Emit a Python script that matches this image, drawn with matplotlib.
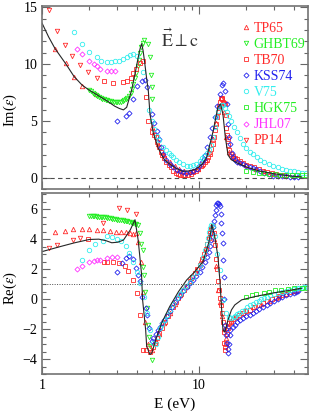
import numpy as np
import matplotlib
matplotlib.use('Agg')
import matplotlib.pyplot as plt
from matplotlib.lines import Line2D
from matplotlib.ticker import MultipleLocator, FixedLocator, NullFormatter, FixedFormatter

plt.rcParams.update({'font.size': 10, 'font.family': 'Liberation Serif'})
plt.rcParams["mathtext.fontset"] = "stix"

# ---------------- theory (black line) ----------------
th_E_im = [1.0, 1.1, 1.21, 1.42, 1.6, 1.8, 2.0, 2.3, 2.6, 2.9, 3.1, 3.3, 3.46, 3.72, 3.91, 4.1, 4.22, 4.31,
           4.4, 4.5, 4.65, 4.75, 4.87, 5.12, 5.5, 6.0, 6.5, 7.2, 7.9, 8.7, 9.6, 10.5, 11.2, 12.3, 13.2, 13.7,
           14.2, 14.7, 15.3, 16.0, 17.5, 20, 24, 30, 38, 45]
th_im = [13.6, 12.4, 11.36, 10.0, 8.9, 8.15, 7.7, 7.2, 6.75, 6.3, 6.1, 5.97, 6.2, 7.7, 9.15, 10.6, 11.4, 11.8,
         11.2, 10.2, 8.6, 7.7, 5.6, 3.9, 2.6, 1.6, 1.2, 0.8, 0.56, 0.6, 0.77, 1.2, 1.8, 4.1, 6.2, 6.5,
         5.6, 3.6, 2.0, 1.6, 1.3, 0.95, 0.6, 0.35, 0.15, 0.07]
th_E_re = [1.0, 1.3, 1.6, 2.0, 2.3, 2.55, 2.78, 3.05, 3.3, 3.64, 3.91, 4.1, 4.3, 4.37, 4.57, 4.64, 4.87, 5.0,
           5.38, 5.78, 6.5, 7.4, 8.35, 9.4, 10.6, 11.5, 11.9, 12.05, 12.6, 13.2, 13.6, 13.9, 14.2, 14.6,
           15.3, 16.1, 16.9, 18.7, 22.7, 29, 36, 45]
th_re = [3.17, 3.5, 3.75, 3.98, 4.0, 3.9, 3.76, 3.8, 3.94, 4.6, 5.3, 3.9, 1.7, -0.05, -2.05, -3.16, -3.7, -3.6,
         -2.5, -1.6, -0.5, 0.5, 1.28, 1.83, 2.5, 3.72, 4.5, 4.97, 4.16, 2.83, 1.17, -0.5, -2.05, -2.2,
         -1.38, -0.72, -0.39, -0.05, 0.17, 0.39, 0.55, 0.72]

# ---------------- TP65 (red up-triangles) ----------------
tp65_E_im = [1.21, 1.42, 1.6, 1.8, 2.2, 5.0, 5.5, 6.0, 6.5, 7.0, 7.5, 8.0, 8.6, 9.2, 9.8, 10.4, 11.0, 11.6,
             12.2, 12.8, 13.4, 13.9, 14.4, 14.9, 15.5, 16.5, 18, 20, 23, 26, 30]
tp65_im = [11.36, 10.1, 8.9, 8.1, 7.4, 4.5, 3.0, 2.0, 1.4, 1.0, 0.75, 0.6, 0.5, 0.6, 0.8, 1.1, 1.6, 2.3,
           3.4, 4.8, 6.2, 7.0, 5.8, 3.6, 2.3, 1.8, 1.4, 1.1, 0.8, 0.55, 0.35]
tp65_E_re = [1.21, 1.4, 1.58, 1.8, 2.0, 2.23, 2.45, 2.7, 2.95, 3.2, 3.42, 3.62, 3.82, 3.97, 4.1, 4.25, 4.4,
             4.55, 4.75, 5.0, 5.3, 5.6, 6.0, 6.5, 7.0, 7.6, 8.2, 8.9, 9.6, 10.3, 11.0, 11.6, 12.0, 12.4,
             12.8, 13.2, 13.6, 14.0, 14.4, 14.8, 15.3, 16, 17, 18.5, 20, 22, 25, 28, 32, 36, 41]
tp65_re = [4.45, 4.56, 4.65, 4.65, 4.65, 4.6, 4.6, 4.55, 4.5, 4.5, 4.45, 4.4, 4.35, 4.38, 3.83, 2.5, 0.5,
           -1.5, -3.0, -3.4, -2.8, -2.3, -1.6, -0.9, -0.3, 0.3, 0.85, 1.4, 1.95, 2.6, 3.4, 4.3, 4.9, 4.0,
           2.2, 0.6, -0.2, -1.16, -2.0, -2.6, -1.8, -1.45, -1.2, -0.95, -0.75, -0.55, -0.3, -0.1, 0.15, 0.35, 0.55]

# ---------------- GHBT69 (green down-triangles) ----------------
ghbt_E_im = [2.0, 2.05, 2.1, 2.15, 2.2, 2.25, 2.3, 2.36, 2.42, 2.48, 2.54, 2.6, 2.67, 2.74, 2.81, 2.88, 2.95,
             3.02, 3.1, 3.18, 3.26, 3.34, 3.42, 3.5, 3.58, 3.66, 3.74, 3.82, 3.9, 3.98, 4.06, 4.14, 4.22,
             4.3, 4.38, 4.45, 4.75, 4.87, 4.94, 4.99, 5.04]
ghbt_im = [7.7, 7.6, 7.5, 7.4, 7.3, 7.2, 7.1, 7.0, 6.95, 6.9, 6.85, 6.8, 6.75, 6.72, 6.7, 6.68, 6.66,
           6.65, 6.67, 6.7, 6.78, 6.85, 6.95, 7.05, 7.2, 7.45, 7.8, 8.25, 8.75, 9.25, 9.8, 10.4, 11.0,
           11.5, 11.85, 12.1, 11.8, 10.6, 9.0, 8.0, 6.9]
ghbt_E_re = [2.0, 2.05, 2.1, 2.15, 2.2, 2.25, 2.3, 2.36, 2.42, 2.48, 2.54, 2.6, 2.67, 2.74, 2.81, 2.88, 2.95,
             3.02, 3.1, 3.18, 3.26, 3.34, 3.42, 3.5, 3.58, 3.66, 3.74, 3.82, 3.9, 3.98, 4.06,
             4.2, 4.3, 4.38, 4.42, 4.46, 4.52, 4.64, 4.72, 4.8, 4.9, 4.99]
ghbt_re = [5.54, 5.53, 5.53, 5.52, 5.52, 5.51, 5.5, 5.49, 5.48, 5.47, 5.45, 5.43, 5.41, 5.39, 5.37, 5.35, 5.33,
           5.31, 5.29, 5.27, 5.25, 5.23, 5.2, 5.18, 5.15, 5.12, 5.09, 5.06, 5.03, 5.0, 4.95,
           4.38, 3.7, 3.3, 2.16, 1.6, 0.5, -0.6, -1.7, -2.5, -3.1, -4.05]

# ---------------- TB70 (red squares) ----------------
tb70_E_im = [2.49, 2.85, 3.26, 3.5, 3.67, 3.82, 3.97, 4.2, 4.4, 4.6, 4.75, 4.99,
             5.15, 5.3, 5.4, 5.55, 5.7, 5.85, 6.0, 6.2, 6.4, 6.6, 6.85, 7.1, 7.3, 7.6, 7.9, 8.2, 8.5, 8.85,
             9.2, 9.55, 9.9, 10.25, 10.6, 10.9, 11.2, 11.45, 11.7, 11.95, 12.2, 12.45, 12.7, 12.9, 13.1,
             13.3, 13.5, 13.65, 13.8, 14.0, 14.1, 14.25, 14.4, 14.6, 14.75, 14.9, 15.05, 15.2, 15.4, 15.6,
             16.0, 16.4, 16.9, 17.4, 18.2, 19, 20, 21, 22.5, 24, 25.5, 27, 29, 31, 33, 35]
tb70_im = [8.5, 8.3, 8.4, 8.5, 8.8, 9.2, 9.6, 10.1, 10.3, 7.1, 5.0, 4.0,
           3.8, 3.6, 3.1, 2.7, 2.3, 2.0, 1.7, 1.4, 1.1, 0.9, 0.6, 0.4, 0.3, 0.25, 0.2, 0.2, 0.25, 0.35,
           0.47, 0.62, 0.8, 1.0, 1.2, 1.4, 1.6, 1.85, 2.1, 2.5, 3.0, 3.6, 4.2, 4.7, 5.3,
           5.8, 6.3, 6.7, 7.0, 7.0, 6.9, 6.7, 6.6, 6.5, 5.5, 4.4, 3.8, 3.4, 2.9, 2.4,
           2.1, 1.9, 1.75, 1.65, 1.45, 1.3, 1.15, 1.06, 0.9, 0.75, 0.6, 0.47, 0.38, 0.3, 0.25, 0.2]
tb70_E_re = [1.97, 2.49, 2.6, 2.85, 3.09, 3.38, 3.55, 3.77, 4.0, 4.2, 4.42, 4.6, 4.87, 5.1,
             5.25, 5.4, 5.6, 5.8, 6.05, 6.3, 6.55, 6.8, 7.1, 7.4, 7.7, 8.0, 8.35, 8.7, 9.05, 9.4, 9.75,
             10.1, 10.45, 10.8, 11.05, 11.3, 11.55, 11.8, 12.0, 12.2, 12.4, 12.6, 12.8, 13.0, 13.2, 13.4,
             13.6, 13.8, 14.0, 14.2, 14.35, 14.5, 14.6, 14.7, 14.85, 15.0, 15.25, 15.5, 16.0, 16.5, 17.2,
             18, 19, 20, 21, 22.5, 24, 25.5, 27, 29, 31, 32.5, 34, 36, 38, 40, 42]
tb70_re = [4.0, 2.5, 2.5, 2.5, 2.43, 2.2, 1.9, 1.28, 0.39, -1.05, -3.38, -3.4, -3.5, -3.2,
           -2.9, -2.6, -2.25, -1.9, -1.5, -1.1, -0.8, -0.5, -0.2, 0.1, 0.35, 0.6, 0.9, 1.2, 1.47, 1.75, 2.02,
           2.3, 2.65, 3.0, 3.35, 3.7, 4.05, 4.4, 4.65, 4.9, 4.4, 3.6, 2.7, 2.0, 1.2, 0.6,
           0.1, -0.4, -0.9, -1.5, -2.2, -2.9, -3.2, -3.4, -3.0, -2.3, -1.9, -1.6, -1.5, -1.35, -1.2,
           -1.05, -0.9, -0.8, -0.72, -0.55, -0.42, -0.28, -0.16, -0.02, 0.08, 0.18, 0.28, 0.37, 0.45, 0.53, 0.6]

# ---------------- KSS74 (blue diamonds) ----------------
kss_E_im = [2.99, 3.42, 3.6, 3.81, 4.0, 4.31, 4.5, 4.64,
            5.04, 5.2, 5.38, 5.59, 5.75, 5.93, 6.2, 6.5, 6.85, 7.2, 7.55, 7.9, 8.3, 8.7, 9.2, 9.67, 10.0,
            10.4, 10.7, 10.95, 11.3, 11.7, 12.1, 12.6, 13.1, 13.6, 14.0, 14.3, 14.6, 15.0, 15.3, 15.6, 15.8,
            16.2, 16.5, 17.0, 17.5, 18.3, 19.1, 20, 21, 22, 23.2, 24.5, 26, 28, 29.7, 32, 34, 36, 38, 40, 43]
kss_im = [5.0, 5.4, 5.7, 6.9, 8.1, 8.5, 8.6, 8.0,
          5.6, 4.8, 4.1, 3.4, 2.7, 2.1, 1.6, 1.2, 0.9, 0.7, 0.55, 0.47, 0.45, 0.5, 0.6, 0.77, 1.0,
          1.35, 1.65, 2.0, 2.7, 3.6, 4.4, 5.3, 6.3, 7.4, 8.2, 8.3, 7.6, 6.5, 4.7, 3.6, 3.0,
          2.2, 1.8, 1.6, 1.4, 1.3, 1.2, 1.05, 0.95, 0.85, 0.77, 0.6, 0.45, 0.3, 0.18, 0.15, 0.12, 0.11, 0.1, 0.09, 0.08]
kss_E_re = [2.99, 3.22, 3.42, 3.6, 3.78, 3.99, 4.1, 4.2, 4.35, 4.57, 4.68, 4.8, 4.99, 5.1, 5.3, 5.5,
            5.65, 5.85, 6.0, 6.25, 6.5, 6.75, 7.0, 7.3, 7.6, 7.95, 8.35, 8.75, 9.15, 9.6, 10.1, 10.5, 10.9,
            11.2, 11.5, 11.7, 11.9, 12.1, 12.3, 12.45, 12.6, 12.75, 12.9, 13.05, 13.2, 13.4, 13.6, 13.75,
            13.9, 14.05, 14.2, 14.3, 14.4, 14.5, 14.6, 14.75, 14.9, 15.05, 15.2, 15.35, 15.5, 15.65, 15.8,
            16.5, 17, 17.5, 18.2, 19, 20, 21, 22, 23, 24, 25.5, 27, 28.5, 30, 32, 34, 36, 38, 40, 41.5, 43]
kss_re = [1.83, 2.43, 2.72, 2.87, 2.65, 2.05, 1.6, 1.2, 0.17, -0.6, -1.05, -1.94, -2.83, -2.6, -2.3, -2.05,
          -1.83, -1.6, -1.4, -1.1, -0.8, -0.5, -0.2, 0.05, 0.3, 0.55, 0.83, 1.05, 1.28, 1.55, 1.83, 2.15, 2.5,
          2.8, 3.16, 3.55, 3.94, 4.4, 4.83, 5.2, 5.6, 5.95, 6.27, 6.4, 6.42, 6.35, 6.2, 5.7,
          5.05, 4.4, 3.72, 2.6, 1.5, 0.0, -1.72, -2.0, -2.38, -2.9, -3.3, -3.6, -3.0, -2.4, -2.05,
          -1.83, -1.7, -1.55, -1.4, -1.25, -1.15, -1.05, -0.9, -0.78, -0.67, -0.52, -0.39, -0.27, -0.15,
          0.0, 0.17, 0.26, 0.35, 0.43, 0.5, 0.55]

# ---------------- V75 (cyan circles) ----------------
v75_E_im = [1.6, 1.8, 2.0, 2.23, 2.36, 2.6, 2.75, 2.9, 3.1, 3.3, 3.5, 3.63, 3.82, 4.0, 4.42,
            4.8, 5.0, 5.2, 5.4, 5.6, 5.93, 6.15, 6.4, 6.6, 6.85, 7.15, 7.5, 7.9, 8.35, 8.8, 9.2, 9.6, 10.1,
            10.5, 10.8, 11.2, 11.5, 11.9, 12.2, 12.6, 12.9, 13.3, 13.6, 14.0, 14.3, 14.7, 15.0, 15.5, 16.1,
            16.8, 17.5, 18.3, 19.1, 20, 21, 22, 23.3, 24.5, 26, 28, 29.7, 32, 34, 36, 38, 40, 43, 45.5, 48]
v75_im = [12.8, 11.8, 11.1, 10.6, 10.3, 10.2, 10.2, 10.25, 10.3, 10.45, 10.6, 10.8, 10.9, 10.7, 9.3,
          6.0, 5.0, 4.3, 3.7, 3.3, 2.7, 2.45, 2.2, 2.0, 1.8, 1.6, 1.4, 1.2, 1.06, 1.05, 1.1, 1.25, 1.5,
          1.7, 1.9, 2.15, 2.4, 2.9, 3.6, 4.5, 5.3, 5.9, 6.2, 6.4, 6.4, 6.1, 5.8, 5.4, 5.0,
          4.5, 4.0, 3.5, 3.0, 2.6, 2.3, 2.05, 1.8, 1.6, 1.4, 1.2, 1.06, 0.9, 0.8, 0.7, 0.6, 0.55, 0.5, 0.45, 0.4]
v75_E_re = [1.79, 2.0, 2.17, 2.43, 2.6, 2.8, 3.0, 3.2, 3.41, 3.6, 3.78, 4.0, 4.2, 4.46, 4.64, 4.87, 5.1, 5.3,
            5.5, 5.65, 5.85, 6.06, 6.28, 6.5, 6.85, 7.2, 7.55, 7.9, 8.3, 8.75, 9.2, 9.67, 10.1, 10.6, 10.9,
            11.2, 11.4, 11.6, 11.8, 12.0, 12.3, 12.7, 13.1, 13.6, 14.2, 14.9,
            15.5, 16.1, 16.6, 17, 17.5, 18, 18.7, 19.5, 20.2, 21, 22, 23, 24, 25, 26, 27, 28.5, 30, 32, 34,
            36, 38, 40, 41.8, 43.5, 45, 46.5, 48]
v75_re = [2.6, 3.27, 3.65, 3.9, 4.2, 4.15, 4.0, 3.85, 3.54, 3.05, 2.5, 1.8, 1.1, 0.17, -0.94, -2.05, -2.9, -3.0,
          -2.5, -1.94, -1.65, -1.4, -1.05, -0.72, -0.33, 0.06, 0.33, 0.6, 0.88, 1.16, 1.5, 1.83, 2.3, 2.83, 3.25,
          3.7, 4.1, 4.5, 4.75, 4.94, 4.9, 4.2, 3.0, 1.94, -0.05, -0.94,
          -1.2, -1.27, -1.2, -1.1, -1.02, -0.95, -0.82, -0.7, -0.55, -0.39, -0.3, -0.2, -0.1, -0.02, 0.08, 0.17,
          0.26, 0.35, 0.43, 0.5, 0.56, 0.62, 0.67, 0.72, 0.74, 0.77, 0.79, 0.8]

# ---------------- HGK75 (green squares) ----------------
hgk_E_im = [20, 22, 24, 26, 28, 30.6, 33, 36, 39, 42, 45, 48]
hgk_im = [0.6, 0.5, 0.45, 0.4, 0.35, 0.3, 0.28, 0.25, 0.22, 0.2, 0.2, 0.2]
hgk_E_re = [19.8, 21.9, 23.2, 26, 27.9, 30.6, 33.5, 37, 40.5, 45, 48.5]
hgk_re = [0.15, 0.3, 0.37, 0.43, 0.48, 0.6, 0.64, 0.68, 0.72, 0.75, 0.77]

# ---------------- JHL07 (magenta diamonds) ----------------
jhl_E_im = [1.66, 1.79, 1.99, 2.13, 2.24, 2.35, 2.6, 2.75, 2.9]
jhl_im = [11.3, 10.9, 10.3, 10.0, 9.8, 9.6, 9.4, 9.4, 9.4]
jhl_E_re = [1.66, 1.79, 2.0, 2.13, 2.24, 2.35, 2.6, 2.8, 3.0]
jhl_re = [2.0, 2.23, 2.46, 2.55, 2.6, 2.63, 2.75, 2.8, 2.78]

# ---------------- PP14 (red down-triangles) ----------------
pp14_E_im = [1.11, 1.24, 1.395, 1.56, 1.745, 1.97, 2.23]
pp14_im = [14.8, 12.9, 11.7, 10.7, 9.9, 9.3, 8.8]
pp14_E_re = [1.11, 1.24, 1.57, 1.75, 2.46, 3.1, 3.49, 3.95]
pp14_re = [3.39, 3.6, 3.94, 4.1, 5.1, 6.1, 5.93, 5.7]

red, green, blue, cyan, magenta = '#ff2a2a', '#22ee22', '#2222ee', '#33eeee', '#ff33ff'
series = [
    ('TP65', '^', red, tp65_E_im, tp65_im, tp65_E_re, tp65_re),
    ('GHBT69', 'v', green, ghbt_E_im, ghbt_im, ghbt_E_re, ghbt_re),
    ('TB70', 's', red, tb70_E_im, tb70_im, tb70_E_re, tb70_re),
    ('KSS74', 'D', blue, kss_E_im, kss_im, kss_E_re, kss_re),
    ('V75', 'o', cyan, v75_E_im, v75_im, v75_E_re, v75_re),
    ('HGK75', 's', green, hgk_E_im, hgk_im, hgk_E_re, hgk_re),
    ('JHL07', 'D', magenta, jhl_E_im, jhl_im, jhl_E_re, jhl_re),
    ('PP14', 'v', red, pp14_E_im, pp14_im, pp14_E_re, pp14_re),
]

fig = plt.figure(figsize=(3.14, 4.11), dpi=100)
ax1 = fig.add_axes([0.134, 0.540, 0.847, 0.445])
ax2 = fig.add_axes([0.134, 0.090, 0.847, 0.440])

for name, mk, c, ei, vi, er, vr in series:
    ms = 2.6 if mk == 'D' else 3.2
    ax1.plot(ei, vi, ls='none', marker=mk, ms=ms, mfc='none', mec=c, mew=0.6)
    ax2.plot(er, vr, ls='none', marker=mk, ms=ms, mfc='none', mec=c, mew=0.6)

ax1.plot(th_E_im, th_im, color='0.15', lw=0.8)
ax2.plot(th_E_re, th_re, color='0.15', lw=0.8)
ax1.axhline(0, color='0.3', lw=0.8, ls=(0, (4, 3)))
ax2.axhline(1, color='0.3', lw=0.7, ls=(0, (1, 1.5)))

for ax in (ax1, ax2):
    ax.set_xscale('log')
    ax.set_xlim(1, 49.5)
    ax.xaxis.set_major_locator(FixedLocator([1, 10]))
    ax.xaxis.set_minor_locator(FixedLocator([2, 3, 4, 5, 6, 7, 8, 9, 20, 30, 40]))
    ax.xaxis.set_minor_formatter(NullFormatter())
    ax.tick_params(which='both', direction='in', top=True, right=True, color='0.4', width=0.8)
    ax.tick_params(which='major', length=6)
    ax.tick_params(which='minor', length=3)
    for s in ax.spines.values():
        s.set_color('0.45')
        s.set_linewidth(1.2)

ax1.set_ylim(-1, 15.1)
ax1.yaxis.set_major_locator(MultipleLocator(5))
ax1.yaxis.set_minor_locator(MultipleLocator(1))
ax1.xaxis.set_major_formatter(NullFormatter())
ax1.set_ylabel(r'Im($\epsilon$)', fontsize=10.5)
ax1.yaxis.set_label_coords(-0.085, 0.43)

ax2.set_ylim(-5, 7.07)
ax2.yaxis.set_major_locator(MultipleLocator(2))
ax2.yaxis.set_minor_locator(MultipleLocator(0.5))
ax2.xaxis.set_major_formatter(FixedFormatter(['1', '10']))
ax2.set_ylabel(r'Re($\epsilon$)', fontsize=10.5)
ax2.yaxis.set_label_coords(-0.085, 0.475)
ax2.set_xlabel('E (eV)', fontsize=11)

ax1.text(0.52, 0.776, r'$\vec{\mathrm{E}}\perp\mathrm{c}$', transform=ax1.transAxes,
         ha='center', va='baseline', fontsize=13, color='0.2')

handles = [Line2D([], [], ls='none', marker=mk, ms=(2.6 if mk == 'D' else 3.2), mfc='none', mec=c, mew=0.6)
           for name, mk, c, *_ in series]
leg = ax1.legend(handles, [s[0] for s in series], loc='upper right', bbox_to_anchor=(0.99, 0.913),
                 frameon=False, borderpad=0, borderaxespad=0, handlelength=0.5, handletextpad=0.3,
                 labelspacing=0.22, fontsize=10)
for t, s in zip(leg.get_texts(), series):
    t.set_color(s[2])

fig.savefig('out.png', dpi=100)
